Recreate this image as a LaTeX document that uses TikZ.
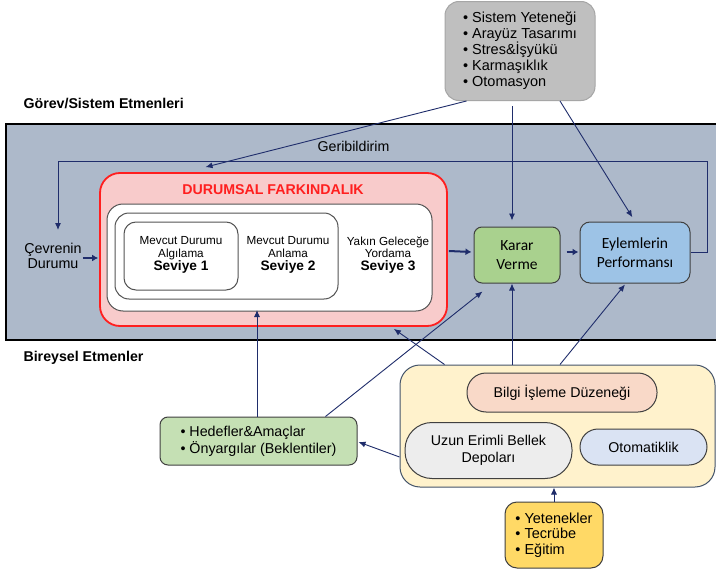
\documentclass[tikz,border=0pt]{standalone}
\usepackage{fontspec}
\setmainfont{Liberation Sans}
\newfontfamily\calib{Carlito}
\usetikzlibrary{arrows.meta,calc}
\definecolor{navy}{HTML}{1F2D6B}
\definecolor{bandc}{HTML}{ADB9CA}
\definecolor{grayf}{HTML}{BFBFBF}
\definecolor{grayb}{HTML}{A6A6A6}
\definecolor{pinkf}{HTML}{F8CBCB}
\definecolor{redb}{HTML}{FF1F1F}
\definecolor{dborder}{HTML}{404040}
\definecolor{kararf}{HTML}{A9D18E}
\definecolor{eylf}{HTML}{9DC3E6}
\definecolor{hedf}{HTML}{C5E0B4}
\definecolor{yelf}{HTML}{FFF2CC}
\definecolor{yelb}{HTML}{44546A}
\definecolor{bilgif}{HTML}{F9D9C8}
\definecolor{uzunf}{HTML}{EDEDED}
\definecolor{otof}{HTML}{DAE3F3}
\definecolor{yetf}{HTML}{FFD966}
\begin{document}
\begin{tikzpicture}[x=1pt,y=-1pt,
  arr/.style={draw=navy, line width=0.9pt, -{Latex[length=7pt,width=6pt]}},
  thickarr/.style={draw=navy, line width=2pt, -{Latex[length=6pt,width=7pt]}},
  box/.style={draw=dborder, line width=1pt, rounded corners=8pt, align=center, inner sep=0pt},
  fnt/.style={font=\fontsize{14.2}{16.5}\selectfont},
  lvl/.style={align=center, font=\fontsize{11.7}{12.5}\selectfont},
  lbl/.style={anchor=west, font=\bfseries\fontsize{14.2}{16}\selectfont}
]
\useasboundingbox (0,0) rectangle (716,570);
\clip (0,0) rectangle (716,570);
\fill[white] (0,0) rectangle (716,570);

% band
\draw[fill=bandc, line width=2.5pt] (6,124) rectangle (740,340);

% labels
\node[lbl] (gorev) at (20,103) {Görev/Sistem Etmenleri};
\node[lbl] (bireysel) at (20,358) {Bireysel Etmenler};

% top gray box
\node[box, draw=grayb, fill=grayf, rounded corners=14pt, minimum width=150pt, minimum height=99pt,
      align=left, font=\fontsize{14.5}{16}\selectfont] (sys) at (520,51)
  {\textbullet\ Sistem Yeteneği\\ \textbullet\ Arayüz Tasarımı\\ \textbullet\ Stres\&İşyükü\\ \textbullet\ Karmaşıklık\\ \textbullet\ Otomasyon};

% SA
\node[draw=redb, fill=pinkf, line width=1.8pt, rounded corners=20pt, minimum width=347pt, minimum height=153pt, inner sep=0pt] (sa) at (273.5,249.5) {};
\node[text=redb, font=\bfseries\fontsize{14.2}{16}\selectfont] (satitle) at (273,190) {DURUMSAL FARKINDALIK};
\node[draw=dborder!90, fill=white, line width=1pt, rounded corners=16pt, minimum width=325pt, minimum height=107pt, inner sep=0pt] (wb) at (269.5,257.5) {};
\node[draw=dborder!90, fill=white, line width=1pt, rounded corners=14pt, minimum width=223pt, minimum height=86pt, inner sep=0pt] (l2) at (226.5,256) {};
\node[draw=dborder!90, fill=white, line width=1pt, rounded corners=12pt, minimum width=114pt, minimum height=68pt, inner sep=0pt] (l1) at (181,256) {};
\node[lvl] (t1) at (181,255) {Mevcut Durumu\\Algılama\\[0.5pt]{\bfseries\fontsize{13.7}{14}\selectfont Seviye 1}};
\node[lvl] (t2) at (288,255) {Mevcut Durumu\\Anlama\\[0.5pt]{\bfseries\fontsize{13.7}{14}\selectfont Seviye 2}};
\node[lvl] (t3) at (388,255) {Yakın Geleceğe\\Yordama\\[0.5pt]{\bfseries\fontsize{13.7}{14}\selectfont Seviye 3}};

% Cevrenin
\node[align=center, font=\fontsize{14.3}{15.5}\selectfont, inner sep=1pt] (cev) at (53,256) {Çevrenin\\Durumu};

% Karar / Eylem
\node[box, fill=kararf, minimum width=86pt, minimum height=56pt, font=\calib\fontsize{15.5}{19}\selectfont] (karar) at (517,255) {Karar\\Verme};
\node[box, fill=eylf, rounded corners=10pt, minimum width=110pt, minimum height=61pt, font=\calib\fontsize{15.5}{19}\selectfont] (eyl) at (635,252.5) {Eylemlerin\\Performansı};

% Hedefler
\node[box, fill=hedf, minimum width=197pt, minimum height=48pt, align=left, font=\fontsize{14.3}{17}\selectfont] (hed) at (258.5,441) {\textbullet\ Hedefler\&Amaçlar\\ \textbullet\ Önyargılar (Beklentiler)};

% Yellow group
\node[draw=yelb, fill=yelf, line width=1pt, rounded corners=20pt, minimum width=315pt, minimum height=122pt, inner sep=0pt] (yel) at (557.5,426) {};
\node[draw=dborder, fill=bilgif, line width=1pt, rounded corners=19pt, minimum width=190pt, minimum height=39pt, inner sep=0pt, fnt] (bilgi) at (562,392.5) {Bilgi İşleme Düzeneği};
\node[draw=dborder, fill=uzunf, line width=1pt, rounded corners=27pt, minimum width=167pt, minimum height=56pt, inner sep=0pt, align=center, fnt] (uzun) at (488.5,450.5) {Uzun Erimli Bellek\\Depoları};
\node[draw=dborder, fill=otof, line width=1pt, rounded corners=18pt, minimum width=127pt, minimum height=36pt, inner sep=0pt, fnt] (oto) at (643.5,447) {Otomatiklik};

% Yetenekler
\node[box, fill=yetf, rounded corners=12pt, minimum width=98pt, minimum height=66pt, align=left, font=\fontsize{14.5}{15.5}\selectfont] (yet) at (554,535) {\textbullet\ Yetenekler\\ \textbullet\ Tecrübe\\ \textbullet\ Eğitim};

% feedback
\coordinate (fbR) at (707,161);
\coordinate (fbL) at (58,161);
\draw[arr, line width=1pt] (eyl.east) -| (fbR) -- (fbL) -- ($(fbL)+(0,69)$);
\node[fnt] (geri) at (353.5,146) {Geribildirim};

% arrows from system box
\draw[arr] ($(sys.south west)+(22,0)$) -- ($(sa.north)+(-68,-5)$);
\draw[arr] ($(sys.south)+(-8,5)$) -- ($(karar.north)+(-5,-6)$);
\draw[arr, shorten >=5pt] ($(sys.south)+(40,0)$) -- (eyl.north);

% thick arrows
\draw[thickarr] ($(cev.east)+(0,2)$) -- ($(sa.west)+(-1,8.5)$);
\draw[thickarr] ($(sa.east)+(1,1.5)$) -- ($(karar.west)+(-2,-3)$);
\draw[thickarr] ($(karar.east)+(6,-3)$) -- ($(eyl.west)+(-1,-0.5)$);

% bottom arrows
\draw[arr] ($(hed.north)+(-1.5,0)$) -- ($(wb.south)+(-12.5,-1.5)$);
\draw[arr] ($(hed.north east)+(-32,0)$) -- ($(karar.south west)+(9,8)$);
\draw[arr] ($(yel.north west)+(45,0)$) -- ($(sa.south east)+(-54,2)$);
\draw[arr] ($(yel.north)+(-45.5,0)$) -- ($(karar.south)+(-5,0)$);
\draw[arr] ($(yel.north)+(2.5,0)$) -- ($(eyl.south)+(-10,1)$);
\draw[arr] ($(yel.west)+(0,31)$) -- ($(hed.east)+(1,1)$);
\draw[arr] (yet.north) -- (yet.north |- yel.south);
\end{tikzpicture}
\end{document}
